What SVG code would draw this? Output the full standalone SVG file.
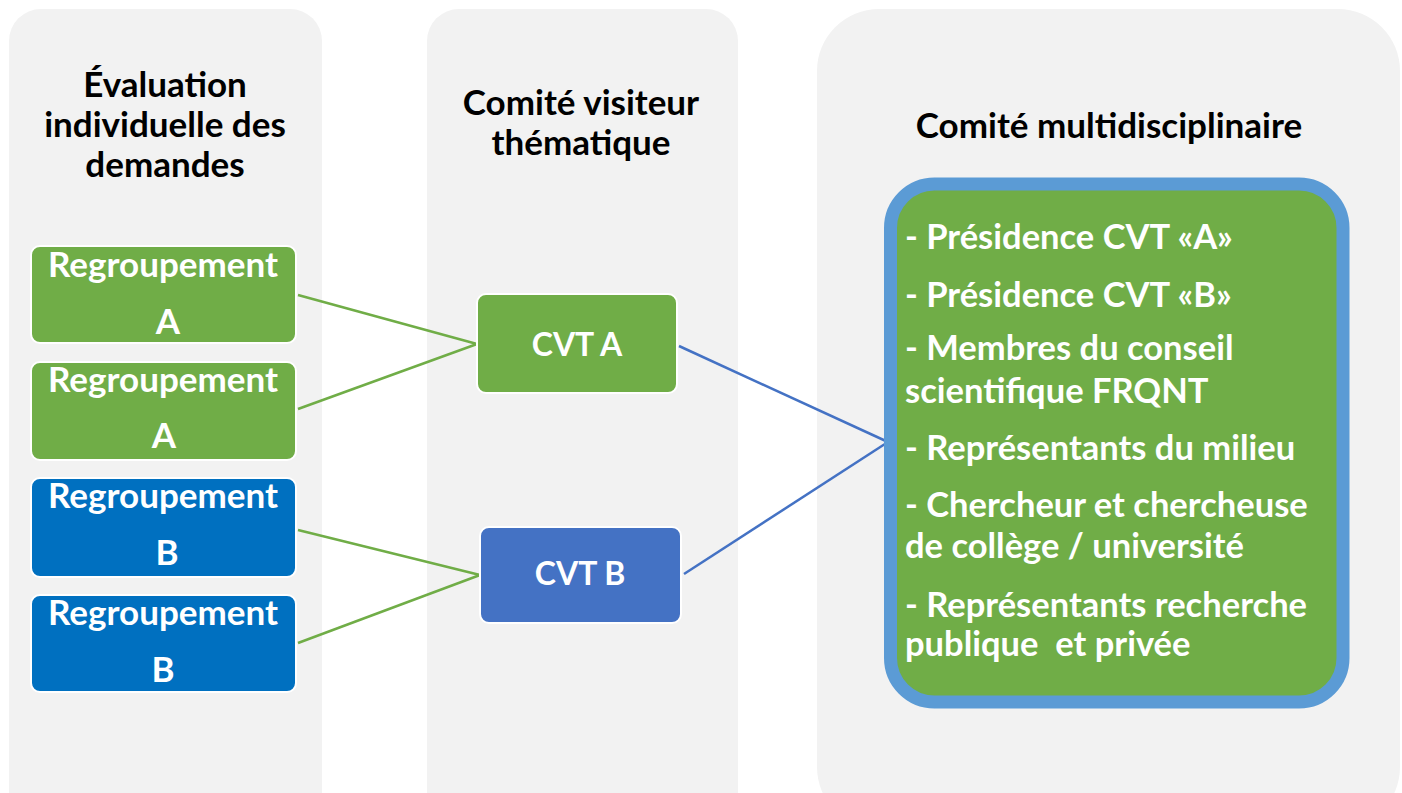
<svg xmlns="http://www.w3.org/2000/svg" width="1402" height="793" viewBox="0 0 1402 793">
<style>
.panel{fill:#F2F2F2}
.hdr{font-family:Lato,"Liberation Sans",sans-serif;font-weight:bold;font-size:35px;fill:#000;text-anchor:middle}
.wt{font-family:Lato,"Liberation Sans",sans-serif;font-weight:bold;font-size:35px;fill:#fff;text-anchor:middle}
.lt{font-family:Lato,"Liberation Sans",sans-serif;font-weight:bold;font-size:34.5px;fill:#fff}
.g{fill:#70AD47;stroke:#fff;stroke-width:2}
.b{fill:#0070C0;stroke:#fff;stroke-width:2}
.b2{fill:#4472C4;stroke:#fff;stroke-width:2}
.lg{stroke:#70AD47;stroke-width:2.5;fill:none}
.lb{stroke:#4472C4;stroke-width:2.5;fill:none}
</style>
<rect width="1402" height="793" fill="#fff"/>
<g id="panel1"><rect class="panel" x="9" y="9" width="313" height="820" rx="32"/>
<text class="hdr" x="165" y="97">Évaluation</text>
<text class="hdr" x="165" y="137">individuelle des</text>
<text class="hdr" x="165" y="177">demandes</text></g>
<g id="panel2"><rect class="panel" x="427" y="9" width="311" height="820" rx="32"/>
<text class="hdr" x="581" y="115">Comité visiteur</text>
<text class="hdr" x="581" y="155">thématique</text></g>
<g id="panel3"><rect class="panel" x="817" y="9" width="583" height="820" rx="62"/>
<text class="hdr" x="1109" y="138">Comité multidisciplinaire</text></g>
<g id="connectors">
<line class="lg" x1="298" y1="295" x2="477" y2="344"/>
<line class="lg" x1="298" y1="409" x2="477" y2="344"/>
<line class="lg" x1="298" y1="530" x2="480" y2="575"/>
<line class="lg" x1="298" y1="643" x2="480" y2="575"/>
<line class="lb" x1="679" y1="346" x2="888" y2="442"/>
<line class="lb" x1="684" y1="574" x2="888" y2="442"/>
</g>
<g id="regA1"><rect class="g" x="31" y="246" width="265" height="97" rx="9"/>
<text class="wt" x="163" y="277">Regroupement</text><text class="wt" x="168" y="334">A</text></g>
<g id="regA2"><rect class="g" x="31" y="362" width="265" height="98" rx="9"/>
<text class="wt" x="163" y="392">Regroupement</text><text class="wt" x="164" y="448">A</text></g>
<g id="regB1"><rect class="b" x="31" y="478" width="265" height="99" rx="9"/>
<text class="wt" x="163" y="508">Regroupement</text><text class="wt" x="167" y="565">B</text></g>
<g id="regB2"><rect class="b" x="31" y="595" width="265" height="97" rx="9"/>
<text class="wt" x="163" y="625">Regroupement</text><text class="wt" x="163" y="682">B</text></g>
<g id="cvtA"><rect class="g" x="477" y="294" width="200" height="99" rx="9"/>
<text class="wt" x="577" y="356" style="font-size:32px">CVT A</text></g>
<g id="cvtB"><rect class="b2" x="480" y="527" width="201" height="96" rx="9"/>
<text class="wt" x="580" y="585" style="font-size:32px">CVT B</text></g>
<g id="multi"><rect x="890.5" y="184" width="452.5" height="518" rx="44" fill="#70AD47" stroke="#5B9BD5" stroke-width="13"/>
<text class="lt" x="905" y="249">- Présidence CVT «A»</text>
<text class="lt" x="905" y="307">- Présidence CVT «B»</text>
<text class="lt" x="905" y="360">- Membres du conseil</text>
<text class="lt" x="905" y="403">scientifique FRQNT</text>
<text class="lt" x="905" y="460">- Représentants du milieu</text>
<text class="lt" x="905" y="517">- Chercheur et chercheuse</text>
<text class="lt" x="905" y="558">de collège / université</text>
<text class="lt" x="905" y="617">- Représentants recherche</text>
<text class="lt" x="905" y="656" style="white-space:pre">publique  et privée</text></g>
</svg>
